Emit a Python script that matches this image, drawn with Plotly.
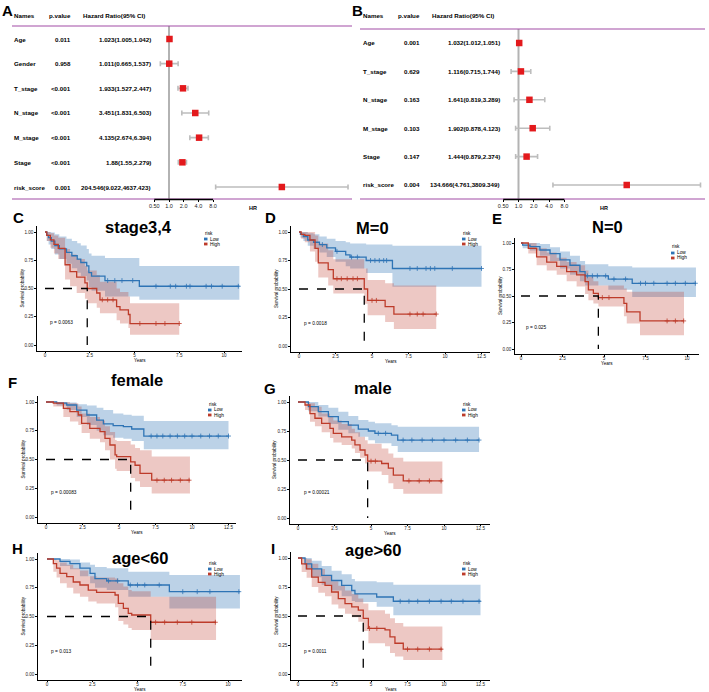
import numpy as np
import plotly.graph_objects as go

W, H = 709, 692

# ---------------- Forest plot data ----------------
A_names = ["Age", "Gender", "T_stage", "N_stage", "M_stage", "Stage", "risk_score"]
A_pvalue = ["0.011", "0.958", "<0.001", "<0.001", "<0.001", "<0.001", "0.001"]
A_hr = [1.023, 1.011, 1.933, 3.451, 4.135, 1.88, 204.546]
A_lo = [1.005, 0.665, 1.527, 1.831, 2.674, 1.55, 9.022]
A_hi = [1.042, 1.537, 2.447, 6.503, 6.394, 2.279, 4637.423]

B_names = ["Age", "T_stage", "N_stage", "M_stage", "Stage", "risk_score"]
B_pvalue = ["0.001", "0.629", "0.163", "0.103", "0.147", "0.004"]
B_hr = [1.032, 1.116, 1.641, 1.902, 1.444, 134.666]
B_lo = [1.012, 0.715, 0.819, 0.878, 0.879, 4.761]
B_hi = [1.051, 1.744, 3.289, 4.123, 2.374, 3809.349]

HR_ticks = [0.5, 1, 2, 4, 8]
HR_ticktext = ["0.50", "1.0", "2.0", "4.0", "8.0"]
forest_headers = ["Names", "p.value", "Hazard Ratio(95% CI)"]

# ---------------- Kaplan-Meier data ----------------
KM_titles = ["stage3,4", "M=0", "N=0", "female", "male", "age<60", "age>60"]
KM_pvals = ["p = 0.0063", "p = 0.0018", "p = 0.025", "p = 0.00083", "p = 0.00021", "p = 0.013", "p = 0.0011"]
risk_levels = ["Low", "High"]

C_low_t = [0, 0.1, 0.2, 0.35, 0.55, 0.8, 1.2, 1.5, 1.8, 2.0, 2.33, 2.45, 2.6, 3.35, 5.27, 10.86]
C_low_s = [1, 0.97, 0.95, 0.92, 0.88, 0.85, 0.82, 0.79, 0.76, 0.73, 0.70, 0.64, 0.61, 0.57, 0.52, 0.52]
C_low_up = [1, 1, 1, 0.995, 0.98, 0.96, 0.94, 0.92, 0.90, 0.88, 0.85, 0.81, 0.79, 0.77, 0.70, 0.70]
C_low_lo = [1, 0.92, 0.89, 0.85, 0.80, 0.76, 0.72, 0.68, 0.64, 0.61, 0.57, 0.51, 0.48, 0.43, 0.40, 0.40]
C_low_cens = [3.5, 3.9, 4.3, 4.9, 6.2, 7.0, 7.3, 7.9, 8.1, 9.0, 9.3, 9.9, 10.8]
C_high_t = [0, 0.1, 0.3, 0.5, 0.74, 1.12, 1.4, 1.77, 2.23, 2.36, 2.89, 3.07, 4.0, 4.19, 4.66, 4.75, 7.5]
C_high_s = [1, 0.97, 0.93, 0.89, 0.855, 0.71, 0.65, 0.60, 0.55, 0.50, 0.46, 0.40, 0.34, 0.31, 0.27, 0.19, 0.19]
C_high_up = [1, 1, 0.99, 0.97, 0.95, 0.85, 0.80, 0.76, 0.70, 0.66, 0.62, 0.56, 0.50, 0.47, 0.43, 0.37, 0.37]
C_high_lo = [1, 0.92, 0.86, 0.81, 0.76, 0.58, 0.52, 0.46, 0.41, 0.37, 0.33, 0.28, 0.22, 0.19, 0.15, 0.09, 0.09]
C_high_cens = [3.2, 3.5, 3.8, 5.3, 6.2, 6.7, 7.5]

D_low_t = [0, 0.1, 0.3, 0.6, 1.0, 1.4, 1.9, 2.5, 3.2, 3.5, 4.6, 6.4, 12.5]
D_low_s = [1, 0.98, 0.96, 0.93, 0.91, 0.89, 0.86, 0.83, 0.80, 0.78, 0.75, 0.68, 0.68]
D_low_up = [1, 1, 1, 0.99, 0.98, 0.96, 0.94, 0.92, 0.91, 0.90, 0.89, 0.88, 0.88]
D_low_lo = [1, 0.95, 0.92, 0.88, 0.85, 0.82, 0.78, 0.74, 0.70, 0.68, 0.64, 0.52, 0.52]
D_low_cens = [1.6, 2.6, 3.6, 4.0, 4.9, 5.2, 5.5, 5.8, 6.0, 7.6, 8.1, 8.7, 9.0, 9.3, 10.5, 12.5]
D_high_t = [0, 0.15, 0.4, 0.75, 1.1, 1.32, 2.0, 2.35, 4.47, 4.7, 5.9, 6.5, 9.4]
D_high_s = [1, 0.98, 0.97, 0.93, 0.857, 0.73, 0.67, 0.59, 0.50, 0.40, 0.345, 0.28, 0.28]
D_high_up = [1, 1, 1, 1, 0.97, 0.90, 0.84, 0.76, 0.68, 0.58, 0.55, 0.53, 0.53]
D_high_lo = [1, 0.94, 0.91, 0.83, 0.74, 0.60, 0.53, 0.46, 0.37, 0.27, 0.21, 0.15, 0.15]
D_high_cens = [2.6, 2.9, 3.3, 3.7, 4.0, 5.0, 5.3, 7.6, 8.1, 8.5, 9.4]

E_low_t = [0, 0.1, 0.54, 1.14, 1.75, 2.35, 2.95, 3.55, 3.86, 5.26, 6.7, 10.54]
E_low_s = [1, 0.98, 0.965, 0.934, 0.90, 0.84, 0.79, 0.73, 0.69, 0.66, 0.62, 0.62]
E_low_up = [1, 1, 1, 0.99, 0.96, 0.92, 0.88, 0.83, 0.80, 0.78, 0.77, 0.77]
E_low_lo = [1, 0.95, 0.93, 0.88, 0.83, 0.76, 0.70, 0.64, 0.60, 0.56, 0.49, 0.49]
E_low_cens = [4.0, 4.3, 4.6, 5.1, 5.6, 6.3, 7.2, 7.5, 8.0, 8.8, 9.3, 9.9, 10.5]
E_high_t = [0, 0.44, 0.94, 1.55, 2.15, 2.75, 3.35, 3.86, 4.06, 4.36, 4.66, 6.2, 6.37, 7.17, 9.82]
E_high_s = [1, 0.95, 0.87, 0.82, 0.78, 0.73, 0.70, 0.635, 0.557, 0.525, 0.485, 0.43, 0.35, 0.265, 0.265]
E_high_up = [1, 1, 0.95, 0.91, 0.86, 0.82, 0.79, 0.74, 0.68, 0.64, 0.60, 0.57, 0.54, 0.54, 0.54]
E_high_lo = [1, 0.90, 0.79, 0.74, 0.70, 0.64, 0.59, 0.52, 0.46, 0.43, 0.40, 0.31, 0.24, 0.13, 0.13]
E_high_cens = [4.9, 5.3, 8.8, 9.3, 9.8]

F_low_t = [0, 0.73, 1.42, 2.1, 2.8, 3.47, 3.93, 4.6, 5.3, 5.87, 6.7, 12.5]
F_low_s = [1, 0.99, 0.974, 0.93, 0.887, 0.843, 0.81, 0.794, 0.786, 0.765, 0.704, 0.704]
F_low_up = [1, 1, 0.995, 0.98, 0.97, 0.95, 0.93, 0.90, 0.89, 0.88, 0.835, 0.835]
F_low_lo = [1, 0.97, 0.93, 0.87, 0.80, 0.75, 0.71, 0.69, 0.68, 0.66, 0.59, 0.59]
F_low_cens = [7.2, 7.6, 8.0, 8.5, 9.0, 9.5, 10.0, 10.6, 11.2, 11.8, 12.5]
F_high_t = [0, 0.5, 1.19, 1.64, 2.21, 2.44, 3.0, 3.7, 4.04, 4.38, 4.73, 4.84, 5.8, 6.1, 6.44, 7.24, 9.86]
F_high_s = [1, 0.99, 0.945, 0.916, 0.887, 0.814, 0.77, 0.742, 0.684, 0.626, 0.54, 0.525, 0.48, 0.45, 0.38, 0.32, 0.32]
F_high_up = [1, 1, 1, 0.99, 0.96, 0.90, 0.87, 0.84, 0.79, 0.74, 0.67, 0.66, 0.63, 0.60, 0.58, 0.525, 0.525]
F_high_lo = [1, 0.96, 0.87, 0.83, 0.80, 0.73, 0.68, 0.65, 0.58, 0.50, 0.42, 0.40, 0.34, 0.31, 0.26, 0.205, 0.205]
F_high_cens = [7.6, 8.1, 8.6, 9.2, 9.8]

G_low_t = [0, 0.71, 1.39, 2.08, 2.76, 3.45, 4.13, 4.82, 5.27, 6.4, 6.83, 12.4]
G_low_s = [1, 0.96, 0.917, 0.874, 0.83, 0.80, 0.767, 0.75, 0.73, 0.715, 0.672, 0.672]
G_low_up = [1, 1, 0.974, 0.95, 0.917, 0.88, 0.845, 0.83, 0.816, 0.80, 0.787, 0.787]
G_low_lo = [1, 0.92, 0.874, 0.81, 0.76, 0.73, 0.70, 0.67, 0.644, 0.62, 0.57, 0.57]
G_low_cens = [5.5, 6.0, 7.2, 7.8, 8.5, 9.2, 10.0, 10.8, 11.6, 12.4]
G_high_t = [0, 0.48, 0.82, 1.16, 1.62, 2.19, 2.42, 2.99, 3.68, 3.9, 4.25, 4.59, 4.77, 5.73, 6.19, 6.53, 7.21, 9.89]
G_high_s = [1, 0.974, 0.90, 0.86, 0.816, 0.773, 0.73, 0.70, 0.672, 0.63, 0.586, 0.543, 0.49, 0.47, 0.43, 0.37, 0.32, 0.32]
G_high_up = [1, 1, 0.99, 0.96, 0.90, 0.87, 0.84, 0.81, 0.77, 0.74, 0.70, 0.67, 0.64, 0.60, 0.557, 0.52, 0.486, 0.486]
G_high_lo = [1, 0.93, 0.83, 0.79, 0.74, 0.69, 0.65, 0.63, 0.60, 0.56, 0.52, 0.47, 0.40, 0.37, 0.30, 0.25, 0.21, 0.21]
G_high_cens = [5.0, 5.3, 7.6, 8.3, 9.0, 9.8]

H_low_t = [0, 0.72, 1.27, 1.82, 2.38, 2.65, 3.3, 4.49, 6.76, 10.66]
H_low_s = [1, 0.98, 0.96, 0.92, 0.875, 0.83, 0.81, 0.774, 0.716, 0.716]
H_low_up = [1, 1, 0.995, 0.97, 0.95, 0.93, 0.92, 0.89, 0.86, 0.86]
H_low_lo = [1, 0.94, 0.91, 0.85, 0.79, 0.75, 0.73, 0.672, 0.57, 0.57]
H_low_cens = [3.4, 3.9, 4.6, 5.0, 5.4, 6.2, 7.5, 8.3, 9.0, 10.6]
H_high_t = [0, 0.35, 0.53, 0.72, 1.09, 1.45, 1.82, 2.28, 2.74, 3.76, 3.94, 4.22, 4.49, 4.68, 5.73, 9.34]
H_high_s = [1, 0.96, 0.92, 0.875, 0.846, 0.80, 0.774, 0.73, 0.71, 0.687, 0.614, 0.57, 0.527, 0.513, 0.45, 0.45]
H_high_up = [1, 1, 0.99, 0.97, 0.95, 0.92, 0.90, 0.85, 0.84, 0.83, 0.79, 0.76, 0.73, 0.72, 0.672, 0.672]
H_high_lo = [1, 0.89, 0.84, 0.79, 0.75, 0.70, 0.672, 0.63, 0.614, 0.58, 0.46, 0.43, 0.40, 0.383, 0.296, 0.296]
H_high_cens = [6.0, 6.5, 7.2, 8.0, 9.3]

I_low_t = [0, 0.48, 0.94, 1.62, 2.3, 2.99, 3.68, 3.9, 5.39, 6.53, 12.5]
I_low_s = [1, 0.95, 0.906, 0.85, 0.806, 0.764, 0.72, 0.69, 0.664, 0.627, 0.627]
I_low_up = [1, 1, 0.977, 0.93, 0.89, 0.86, 0.82, 0.80, 0.79, 0.77, 0.77]
I_low_lo = [1, 0.90, 0.835, 0.77, 0.72, 0.67, 0.63, 0.62, 0.58, 0.507, 0.507]
I_low_cens = [7.0, 7.6, 8.2, 9.0, 9.8, 10.5, 11.3, 12.4]
I_high_t = [0, 0.25, 0.59, 0.94, 1.39, 1.85, 2.3, 2.76, 3.22, 3.68, 4.13, 4.47, 4.82, 5.96, 6.3, 6.64, 7.21, 9.89]
I_high_s = [1, 0.95, 0.906, 0.835, 0.79, 0.764, 0.707, 0.65, 0.607, 0.578, 0.55, 0.48, 0.393, 0.38, 0.32, 0.265, 0.214, 0.214]
I_high_up = [1, 1, 0.99, 0.95, 0.906, 0.85, 0.80, 0.76, 0.72, 0.69, 0.65, 0.607, 0.55, 0.52, 0.48, 0.44, 0.41, 0.41]
I_high_lo = [1, 0.88, 0.83, 0.75, 0.70, 0.67, 0.60, 0.564, 0.52, 0.49, 0.45, 0.37, 0.265, 0.24, 0.18, 0.15, 0.12, 0.12]
I_high_cens = [4.9, 5.4, 7.5, 8.2, 9.0, 9.8]

# ---------------- helpers ----------------
FONT = "Arial, Liberation Sans, sans-serif"
LOW_COL = "#2E74B5"
HIGH_COL = "#BD3B2A"
LOW_FILL = "rgba(46,116,181,0.32)"
HIGH_FILL = "rgba(189,59,42,0.28)"
PURPLE = "#A24DA6"

fig = go.Figure()
ann, shp = [], []
layout_axes = {}


def fx(px):
    return px / W


def fy(py):
    return 1 - py / H


def esc(s):
    return s.replace("<", "&lt;").replace(">", "&gt;")


def text(s, px, py, size, xanchor="left", yanchor="middle", bold=False, angle=0):
    s = esc(s)
    ann.append(dict(text=("<b>%s</b>" % s) if bold else s, x=fx(px), y=fy(py),
                    xref="paper", yref="paper", xanchor=xanchor, yanchor=yanchor,
                    showarrow=False, textangle=angle, borderpad=0,
                    font=dict(size=size, family=FONT, color="black")))


def axname(k):
    return ("x", "y") if k == 1 else ("x%d" % k, "y%d" % k)


def forest(k, names, pvals, hr, lo, hi, g):
    xr_, yr_ = axname(k)
    hr = np.array(hr, float)
    lo = np.array(lo, float)
    hi = np.array(hi, float)
    n = len(names)
    rows = np.arange(1, n + 1)
    per_dec = g["dbl"] / np.log10(2)
    xrange_ = [(g["x0"] - g["one"]) / per_dec, (g["x1"] - g["one"]) / per_dec]
    sp = (g["rlast"] - g["rfirst"]) / (n - 1)
    yrange_ = [n + (g["bot"] - g["rlast"]) / sp, 1 - (g["rfirst"] - g["top"]) / sp]
    fig.add_trace(go.Scatter(
        x=hr, y=rows, xaxis=xr_, yaxis=yr_, mode="markers", showlegend=False,
        marker=dict(symbol="square", size=6.5, color="#E3191C"),
        error_x=dict(type="data", symmetric=False, array=hi - hr, arrayminus=hr - lo,
                     color="#BDBDBD", thickness=1.6, width=2.5)))
    layout_axes["xaxis" if k == 1 else "xaxis%d" % k] = dict(
        domain=[fx(g["x0"]), fx(g["x1"])], type="log", range=xrange_, anchor=yr_,
        tickvals=HR_ticks, ticktext=HR_ticktext, ticks="outside", ticklen=2,
        tickcolor="black", tickwidth=1, showline=False, showgrid=False, zeroline=False,
        ticklabelstandoff=-1,
        tickfont=dict(size=5.5, family=FONT, color="#222"))
    layout_axes["yaxis" if k == 1 else "yaxis%d" % k] = dict(
        domain=[fy(g["bot"]), fy(g["top"])], range=yrange_, anchor=xr_, visible=False)
    # reference line at HR = 1
    shp.append(dict(type="line", xref=xr_, yref="paper", x0=1, x1=1, y0=fy(g["bot"]), y1=fy(g["top"]),
                    line=dict(color="#B3B3B3", width=2), layer="below"))
    # purple lines
    for py in (g["top"], g["bot"]):
        shp.append(dict(type="line", xref="paper", yref="paper", x0=fx(g["x0"]), x1=fx(g["x1"]),
                        y0=fy(py), y1=fy(py), line=dict(color=PURPLE, width=1.2), layer="below"))
    # axis segment
    shp.append(dict(type="line", xref=xr_, yref="paper", x0=HR_ticks[0], x1=HR_ticks[-1],
                    y0=fy(g["bot"] + 0.5), y1=fy(g["bot"] + 0.5), line=dict(color="black", width=1.3)))
    # table
    fs = 6.2
    text(forest_headers[0], g["cname"], g["hdr"], fs, bold=True)
    text(forest_headers[1], g["cp"], g["hdr"], fs, xanchor="right", bold=True)
    text(forest_headers[2], g["chr_h"], g["hdr"], fs, bold=True)
    for i in range(n):
        py = g["rfirst"] + i * sp
        text(names[i], g["cname"], py, fs, bold=True)
        text(pvals[i], g["cp"], py, fs, xanchor="right", bold=True)
        text("%s(%s,%s)" % (repr(float(hr[i])).rstrip("0").rstrip("."),
                            repr(float(lo[i])), repr(float(hi[i]))),
             g["chr"], py, fs, xanchor="right", bold=True)
    text("HR", g["hrlab"], 208, 5.5, xanchor="center", bold=True)
    text(g["letter"], g["lx"], g["ly"], 15, xanchor="center", bold=True)


forest(1, A_names, A_pvalue, A_hr, A_lo, A_hi,
       dict(x0=12, x1=352, one=169, dbl=14.7, top=26, bot=199, rfirst=39, rlast=187, hdr=15,
            cname=13, cp=72, chr_h=82, chr=152, hrlab=253, letter="A", lx=7, ly=10))
forest(2, B_names, B_pvalue, B_hr, B_lo, B_hi,
       dict(x0=360, x1=705, one=518.5, dbl=15.3, top=29, bot=199, rfirst=43, rlast=185, hdr=15,
            cname=362, cp=421, chr_h=431, chr=501, hrlab=604, letter="B", lx=357, ly=10))

# ---------------- Kaplan-Meier panels ----------------
KM_data = [
    (C_low_t, C_low_s, C_low_up, C_low_lo, C_low_cens, C_high_t, C_high_s, C_high_up, C_high_lo, C_high_cens),
    (D_low_t, D_low_s, D_low_up, D_low_lo, D_low_cens, D_high_t, D_high_s, D_high_up, D_high_lo, D_high_cens),
    (E_low_t, E_low_s, E_low_up, E_low_lo, E_low_cens, E_high_t, E_high_s, E_high_up, E_high_lo, E_high_cens),
    (F_low_t, F_low_s, F_low_up, F_low_lo, F_low_cens, F_high_t, F_high_s, F_high_up, F_high_lo, F_high_cens),
    (G_low_t, G_low_s, G_low_up, G_low_lo, G_low_cens, G_high_t, G_high_s, G_high_up, G_high_lo, G_high_cens),
    (H_low_t, H_low_s, H_low_up, H_low_lo, H_low_cens, H_high_t, H_high_s, H_high_up, H_high_lo, H_high_cens),
    (I_low_t, I_low_s, I_low_up, I_low_lo, I_low_cens, I_high_t, I_high_s, I_high_up, I_high_lo, I_high_cens),
]

KM_geo = [
    dict(t0=45, ppy=17.9, left=37, right=242, py1=232, py0=345, letter="C", L=(18, 217), T=(138, 227), G=(204, 233), P=(49, 322)),
    dict(t0=299, ppy=14.6, left=291, right=490, py1=232, py0=346, letter="D", L=(270, 217), T=(373, 228), G=(462, 233), P=(303, 323)),
    dict(t0=521, ppy=16.6, left=515, right=699, py1=243, py0=349, letter="E", L=(497, 218), T=(607, 227), G=(671, 247), P=(525, 327)),
    dict(t0=46, ppy=14.6, left=38, right=236, py1=402, py0=517, letter="F", L=(12, 382), T=(137, 380), G=(208, 404), P=(50, 492)),
    dict(t0=298, ppy=14.6, left=290, right=490, py1=402, py0=518, letter="G", L=(270, 389), T=(373, 388), G=(462, 404), P=(303, 492)),
    dict(t0=47, ppy=18.1, left=38, right=242, py1=559, py0=674, letter="H", L=(17, 548), T=(140, 558), G=(208, 563), P=(50, 651)),
    dict(t0=298, ppy=14.6, left=291, right=490, py1=558, py0=674, letter="I", L=(273, 548), T=(373, 550), G=(462, 563), P=(303, 651)),
]


def step_eval(t, s, q):
    t = np.asarray(t, float)
    s = np.asarray(s, float)
    idx = np.searchsorted(t, np.asarray(q, float), side="right") - 1
    return s[np.clip(idx, 0, len(s) - 1)]


for p, (data, g) in enumerate(zip(KM_data, KM_geo)):
    k = p + 3
    xr_, yr_ = axname(k)
    (lt, ls, lu, ll, lc, ht, hs, hu, hl, hc) = data
    for (t, lo_, up_, fill) in ((lt, ll, lu, LOW_FILL), (ht, hl, hu, HIGH_FILL)):
        fig.add_trace(go.Scatter(x=t, y=lo_, xaxis=xr_, yaxis=yr_, mode="lines", showlegend=False,
                                 hoverinfo="skip", line=dict(shape="hv", width=0, color=fill)))
        fig.add_trace(go.Scatter(x=t, y=up_, xaxis=xr_, yaxis=yr_, mode="lines", showlegend=False,
                                 hoverinfo="skip", fill="tonexty", fillcolor=fill,
                                 line=dict(shape="hv", width=0, color=fill)))
    for (t, s, c, col) in ((lt, ls, lc, LOW_COL), (ht, hs, hc, HIGH_COL)):
        fig.add_trace(go.Scatter(x=t, y=s, xaxis=xr_, yaxis=yr_, mode="lines", showlegend=False,
                                 line=dict(shape="hv", width=1.3, color=col)))
        fig.add_trace(go.Scatter(x=c, y=step_eval(t, s, c), xaxis=xr_, yaxis=yr_, mode="markers",
                                 showlegend=False,
                                 marker=dict(symbol="cross-thin", size=3.5, color=col,
                                             line=dict(width=0.8, color=col))))
    # median survival of the High group (first time survival <= 0.5)
    hs_arr = np.asarray(hs, float)
    med = float(np.asarray(ht, float)[np.argmax(hs_arr <= 0.5)])
    fig.add_trace(go.Scatter(x=[0, med, med], y=[0.5, 0.5, 0], xaxis=xr_, yaxis=yr_, mode="lines",
                             showlegend=False, line=dict(color="black", width=1.3, dash="dash")))

    ppu = g["py0"] - g["py1"]
    ptop = g["py1"] - 0.05 * ppu
    pbot = g["py0"] + 0.05 * ppu
    xrange_ = [(g["left"] - g["t0"]) / g["ppy"], (g["right"] - g["t0"]) / g["ppy"]]
    layout_axes["xaxis%d" % k] = dict(
        domain=[fx(g["left"]), fx(g["right"])], range=xrange_, anchor=yr_, tick0=0, dtick=2.5,
        showline=True, linecolor="black", linewidth=1.3, ticks="outside", ticklen=1.5, tickwidth=0.8,
        tickcolor="black", showgrid=False, zeroline=False, ticklabelstandoff=-2,
        tickfont=dict(size=4.6, family=FONT, color="#222"))
    layout_axes["yaxis%d" % k] = dict(
        domain=[fy(pbot), fy(ptop)], range=[-0.05, 1.05], anchor=xr_,
        tickvals=[0, 0.25, 0.5, 0.75, 1.0], tickformat=".2f",
        showline=True, linecolor="black", linewidth=1.3, ticks="outside", ticklen=1.5, tickwidth=0.8,
        tickcolor="black", showgrid=False, zeroline=False,
        tickfont=dict(size=4.6, family=FONT, color="#222"))
    cx = (g["left"] + g["right"]) / 2
    text("Years", cx, pbot + 9.6, 4.6, xanchor="center")
    text("Survival probability", g["left"] - 15, (ptop + pbot) / 2, 4.6, xanchor="center", angle=-90)
    text(KM_titles[p], g["T"][0], g["T"][1], 16.5, xanchor="center", bold=True)
    text(g["letter"], g["L"][0], g["L"][1], 15, xanchor="center", bold=True)
    text(KM_pvals[p], g["P"][0], g["P"][1], 4.8)
    # legend
    gx, gy = g["G"]
    text("risk", gx, gy, 4.8)
    for j, (lab, col) in enumerate(zip(risk_levels, (LOW_COL, HIGH_COL))):
        yy = gy + 6 + 5 * j
        shp.append(dict(type="rect", xref="paper", yref="paper", x0=fx(gx), x1=fx(gx + 3.5),
                        y0=fy(yy + 1.4), y1=fy(yy - 1.4), fillcolor=col, line=dict(width=0)))
        text(lab, gx + 5, yy, 4.8)

fig.update_layout(
    width=W, height=H, margin=dict(l=0, r=0, t=0, b=0),
    paper_bgcolor="white", plot_bgcolor="white", showlegend=False,
    annotations=ann, shapes=shp, **layout_axes)

fig.write_html("out.html")
